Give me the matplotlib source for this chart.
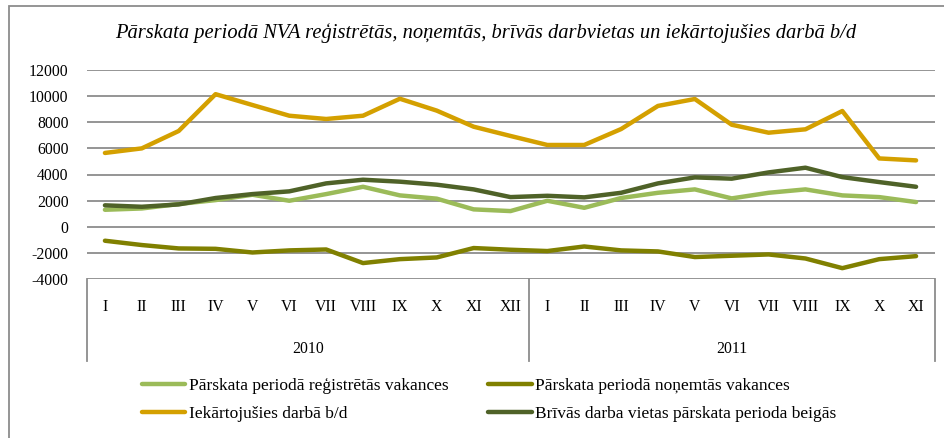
import numpy as np
import matplotlib
matplotlib.use("Agg")
import matplotlib.pyplot as plt
from matplotlib.patches import Rectangle
from matplotlib.transforms import blended_transform_factory

plt.rcParams['font.family'] = ['Liberation Serif', 'DejaVu Serif']
plt.rcParams['axes.unicode_minus'] = False

# data
months = ['I', 'II', 'III', 'IV', 'V', 'VI', 'VII', 'VIII', 'IX', 'X', 'XI', 'XII',
          'I', 'II', 'III', 'IV', 'V', 'VI', 'VII', 'VIII', 'IX', 'X', 'XI']
years = ['2010', '2011']
year_lengths = [12, 11]

registered = [1300, 1400, 1740, 2040, 2450, 1990, 2500, 3060, 2400, 2150, 1330, 1200,
              1990, 1450, 2200, 2600, 2860, 2170, 2600, 2860, 2400, 2270, 1890]
removed = [-1070, -1400, -1660, -1690, -1970, -1810, -1740, -2780, -2480, -2350, -1630, -1760,
           -1860, -1510, -1810, -1890, -2320, -2220, -2120, -2430, -3170, -2480, -2250]
employed = [5650, 6000, 7330, 10150, 9320, 8500, 8250, 8500, 9800, 8890, 7660, 6950,
            6260, 6260, 7480, 9250, 9780, 7810, 7200, 7460, 8860, 5230, 5080]
free_jobs = [1640, 1530, 1710, 2200, 2500, 2710, 3320, 3600, 3450, 3220, 2860, 2270,
             2370, 2250, 2600, 3320, 3780, 3680, 4160, 4520, 3800, 3420, 3060]

series = [
    ('Pārskata periodā reģistrētās vakances', registered, '#9BBB59'),
    ('Pārskata periodā noņemtās vakances', removed, '#808000'),
    ('Iekārtojušies darbā b/d', employed, '#D4A000'),
    ('Brīvās darba vietas pārskata perioda beigās', free_jobs, '#4F6228'),
]

fig = plt.figure(figsize=(9.44, 4.38), dpi=100)
ax = fig.add_axes([86.5 / 944, 159 / 438, 848 / 944, 209 / 438])

x = np.arange(len(months))
handles = []
for label, vals, col in series:
    h, = ax.plot(x, vals, color=col, lw=3.2, label=label, solid_capstyle='round')
    handles.append(h)

ax.set_xlim(-0.5, len(months) - 0.5)
ax.set_ylim(-4000, 12000)
ax.set_yticks(np.arange(-4000, 12001, 2000))
ax.tick_params(axis='y', length=0, pad=13, labelsize=11.3)
ax.set_xticks([])
for s in ax.spines.values():
    s.set_visible(False)
ax.yaxis.grid(True, color='#8C8C8C', lw=1.3)
ax.set_axisbelow(True)

# category box under the plot
trans = blended_transform_factory(ax.transData, ax.transAxes)
box_bottom = -0.39
bounds = [-0.5]
for n in year_lengths:
    bounds.append(bounds[-1] + n)
for b in bounds:
    ax.plot([b, b], [0, box_bottom], transform=trans, color='#8C8C8C', lw=1.3, clip_on=False)
for i, m in enumerate(months):
    ax.text(i, -0.135, m, transform=trans, ha='center', va='center', fontsize=11.3)
for yr, lo, hi in zip(years, bounds[:-1], bounds[1:]):
    ax.text((lo + hi) / 2, -0.335, yr, transform=trans, ha='center', va='center', fontsize=11.3)

fig.text(0.515, 0.925, 'Pārskata periodā NVA reģistrētās, noņemtās, brīvās darbvietas un iekārtojušies darbā b/d',
         ha='center', va='center', fontsize=14.8, style='italic')

order = [0, 2, 1, 3]
fig.legend([handles[i] for i in order], [series[i][0] for i in order],
           ncol=2, loc='upper left', bbox_to_anchor=(142 / 944, 1 - 378 / 438),
           frameon=False, fontsize=12.5, handlelength=2.5, handletextpad=0.2,
           columnspacing=2.3, labelspacing=0.65, borderpad=0, borderaxespad=0)

fig.patches.append(Rectangle((9 / 944, -0.1), 1.2, 1.1 - 6 / 438, transform=fig.transFigure,
                             fill=False, edgecolor='#8C8C8C', lw=1.3))

fig.savefig('out.png', dpi=100)
